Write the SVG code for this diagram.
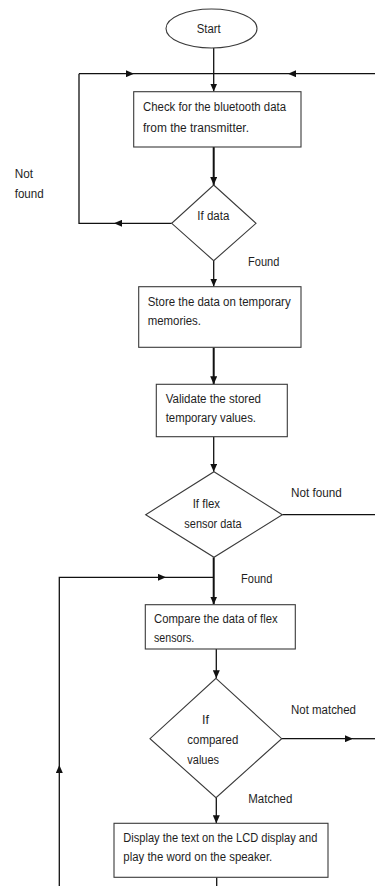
<svg xmlns="http://www.w3.org/2000/svg" width="375" height="886" viewBox="0 0 375 886">
<style>
.bg{fill:#fff}
.node{fill:#fff;stroke:#3a3a3a;stroke-width:1.1}
.t{font-family:"Liberation Sans",Arial,sans-serif;font-size:12.5px;fill:#1e1e1e}
.c{fill:none;stroke:#111;stroke-width:1.3}
.th{stroke-width:2}
</style>
<defs>
<marker id="ah" viewBox="0 0 8 7" refX="8" refY="3.5" markerWidth="8" markerHeight="7" markerUnits="userSpaceOnUse" orient="auto">
<path d="M0,0 L8,3.5 L0,7 z" fill="#111"/>
</marker>
</defs>
<rect class="bg" x="0" y="0" width="375" height="886"/>

<g id="connectors">
<line class="c" x1="213.7" y1="48" x2="213.7" y2="91.5" marker-end="url(#ah)"/>
<line class="c" x1="79" y1="73.7" x2="134" y2="73.7" marker-end="url(#ah)"/>
<line class="c" x1="134" y1="73.7" x2="213.7" y2="73.7"/>
<line class="c" x1="375" y1="73.7" x2="288" y2="73.7" marker-end="url(#ah)"/>
<line class="c" x1="288" y1="73.7" x2="213.7" y2="73.7"/>
<line class="c th" x1="213.7" y1="147" x2="213.7" y2="185" marker-end="url(#ah)"/>
<line class="c" x1="171.7" y1="223.3" x2="114" y2="223.3" marker-end="url(#ah)"/>
<polyline class="c" points="114,223.3 79,223.3 79,73.7"/>
<line class="c" x1="213.7" y1="260.7" x2="213.7" y2="286.5" marker-end="url(#ah)"/>
<line class="c th" x1="213.7" y1="347.3" x2="213.7" y2="384.3" marker-end="url(#ah)"/>
<line class="c" x1="213.7" y1="436.7" x2="213.7" y2="471.7" marker-end="url(#ah)"/>
<line class="c" x1="282.3" y1="514.7" x2="375" y2="514.7"/>
<line class="c th" x1="213.7" y1="557.3" x2="213.7" y2="604.5" marker-end="url(#ah)"/>
<line class="c" x1="59.3" y1="886" x2="59.3" y2="765" marker-end="url(#ah)"/>
<polyline class="c" points="59.3,765 59.3,577.3 166,577.3" marker-end="url(#ah)"/>
<line class="c" x1="166" y1="577.3" x2="213.7" y2="577.3"/>
<line class="c" x1="216.3" y1="649" x2="216.3" y2="678.3" marker-end="url(#ah)"/>
<line class="c" x1="281.7" y1="738.7" x2="353" y2="738.7" marker-end="url(#ah)"/>
<line class="c" x1="353" y1="738.7" x2="375" y2="738.7"/>
<line class="c" x1="216.3" y1="797.7" x2="216.3" y2="823.3" marker-end="url(#ah)"/>
<line class="c" x1="216.7" y1="877.3" x2="216.7" y2="886"/>
</g>

<g id="start">
<ellipse class="node" cx="211.5" cy="28.5" rx="45.5" ry="19.5"/>
<text class="t" x="196.7" y="32.5" textLength="24" lengthAdjust="spacingAndGlyphs">Start</text>
</g>

<g id="check">
<rect class="node" x="133.7" y="91.7" width="167.3" height="55.3"/>
<text class="t" x="143" y="110.5" textLength="143" lengthAdjust="spacingAndGlyphs">Check for the bluetooth data</text>
<text class="t" x="143" y="131.5" textLength="106" lengthAdjust="spacingAndGlyphs">from the transmitter.</text>
</g>

<g id="ifdata">
<polygon class="node" points="213.7,185 256,223.3 213.7,260.7 171.7,223.3"/>
<text class="t" x="197.3" y="220" textLength="32" lengthAdjust="spacingAndGlyphs">If data</text>
</g>

<g id="labels">
<text class="t" x="14.7" y="178" textLength="18.3" lengthAdjust="spacingAndGlyphs">Not</text>
<text class="t" x="14.7" y="197.5" textLength="29" lengthAdjust="spacingAndGlyphs">found</text>
<text class="t" x="248" y="266" textLength="31.3" lengthAdjust="spacingAndGlyphs">Found</text>
<text class="t" x="291" y="496.7" textLength="50.7" lengthAdjust="spacingAndGlyphs">Not found</text>
<text class="t" x="241" y="583.3" textLength="31.3" lengthAdjust="spacingAndGlyphs">Found</text>
<text class="t" x="291" y="714.3" textLength="65" lengthAdjust="spacingAndGlyphs">Not matched</text>
<text class="t" x="248.3" y="803.3" textLength="44" lengthAdjust="spacingAndGlyphs">Matched</text>
</g>

<g id="store">
<rect class="node" x="138.7" y="286.7" width="162.3" height="60.6"/>
<text class="t" x="147.7" y="306" textLength="143" lengthAdjust="spacingAndGlyphs">Store the data on temporary</text>
<text class="t" x="147.7" y="325.3" textLength="53.3" lengthAdjust="spacingAndGlyphs">memories.</text>
</g>

<g id="validate">
<rect class="node" x="156.3" y="384.3" width="131" height="52.4"/>
<text class="t" x="165.7" y="403.3" textLength="95.3" lengthAdjust="spacingAndGlyphs">Validate the stored</text>
<text class="t" x="165.7" y="422.3" textLength="90.3" lengthAdjust="spacingAndGlyphs">temporary values.</text>
</g>

<g id="ifflex">
<polygon class="node" points="214,471.7 282.3,514.7 214,557.3 145.7,514.7"/>
<text class="t" x="192.7" y="508.3" textLength="27.3" lengthAdjust="spacingAndGlyphs">If flex</text>
<text class="t" x="184.3" y="527.7" textLength="57.3" lengthAdjust="spacingAndGlyphs">sensor data</text>
</g>

<g id="compare">
<rect class="node" x="145.3" y="604.7" width="150" height="44.3"/>
<text class="t" x="154" y="622.7" textLength="123.7" lengthAdjust="spacingAndGlyphs">Compare the data of flex</text>
<text class="t" x="154" y="642.3" textLength="40.3" lengthAdjust="spacingAndGlyphs">sensors.</text>
</g>

<g id="ifcompared">
<polygon class="node" points="216,678.3 281.7,738.7 216,797.7 150,738.7"/>
<text class="t" x="202" y="724.3">If</text>
<text class="t" x="187.3" y="744.3" textLength="51" lengthAdjust="spacingAndGlyphs">compared</text>
<text class="t" x="187.3" y="763.7" textLength="31.7" lengthAdjust="spacingAndGlyphs">values</text>
</g>

<g id="display">
<rect class="node" x="114" y="823.3" width="214" height="54"/>
<text class="t" x="123.3" y="841.7" textLength="194" lengthAdjust="spacingAndGlyphs">Display the text on the LCD display and</text>
<text class="t" x="123.3" y="861" textLength="149" lengthAdjust="spacingAndGlyphs">play the word on the speaker.</text>
</g>
</svg>
